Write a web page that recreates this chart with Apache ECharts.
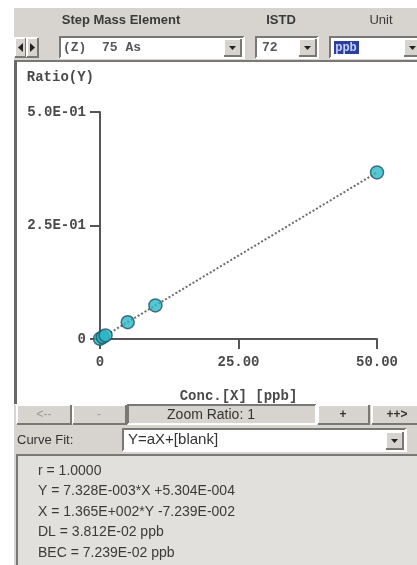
<!DOCTYPE html>
<html>
<head>
<meta charset="utf-8">
<script src="https://cdn.jsdelivr.net/npm/echarts@6/dist/echarts.min.js"></script>
<style>
html,body{margin:0;padding:0;background:#fff;}
#c{width:417px;height:565px;}
</style>
</head>
<body>
<div id="c"></div>
<script>
// ---- data ----
const concX = [0, 0.5, 1, 5, 10, 50];                       // ppb
const ratioY = [0.0005, 0.0042, 0.0079, 0.037, 0.074, 0.367];
const fitX = [0, 50];
const fitY = [0.00053, 0.3669];
const xTicks = [0, 25, 50];
const yTicks = [0, 0.25, 0.5];
const xTickLabels = ['0', '25.00', '50.00'];
const yTickLabels = ['0', '2.5E-01', '5.0E-01'];
const infoLines = [
  'r = 1.0000',
  'Y = 7.328E-003*X +5.304E-004',
  'X = 1.365E+002*Y -7.239E-002',
  'DL = 3.812E-02 ppb',
  'BEC = 7.239E-02 ppb'
];

const PANEL = '#d7d4cf';
const MONO = '"Liberation Mono", "DejaVu Sans Mono", monospace';
const SANS = '"Liberation Sans", Arial, sans-serif';

function bevel(x, y, w, h, fill, raised) {
  const lt = raised ? '#ffffff' : '#7a7875';
  const rb = raised ? '#7a7875' : '#ffffff';
  return [
    {type:'rect', shape:{x:x, y:y, width:w, height:h}, style:{fill:fill}},
    {type:'polyline', shape:{points:[[x, y+h],[x, y],[x+w, y]]}, style:{stroke:lt, lineWidth:2, fill:null}},
    {type:'polyline', shape:{points:[[x, y+h],[x+w, y+h],[x+w, y]]}, style:{stroke:rb, lineWidth:2, fill:null}}
  ];
}
function txt(x, y, s, opt) {
  return {type:'text', x:x, y:y, style:Object.assign({text:s, fill:'#333', font:'11px ' + SANS, textVerticalAlign:'middle'}, opt||{})};
}
function dropBtn(x, y) {
  return bevel(x, y, 17, 17, PANEL, true).concat([
    {type:'polygon', shape:{points:[[x+5, y+7],[x+12, y+7],[x+8.5, y+11]]}, style:{fill:'#222'}}
  ]);
}

let g = [];
g.push({type:'rect', shape:{x:14, y:8, width:403, height:557}, style:{fill:PANEL}});
// header
g.push(txt(121, 20, 'Step Mass Element', {textAlign:'center', font:'bold 13px ' + SANS, fill:'#3a3a3a'}));
g.push(txt(281, 20, 'ISTD', {textAlign:'center', font:'bold 13px ' + SANS, fill:'#3a3a3a'}));
g.push(txt(381, 20, 'Unit', {textAlign:'center', font:'13px ' + SANS, fill:'#3a3a3a'}));
// arrows
g = g.concat(bevel(15, 38, 11, 19, PANEL, true));
g.push({type:'polygon', shape:{points:[[23, 43],[23, 52],[18, 47.5]]}, style:{fill:'#222'}});
g = g.concat(bevel(27, 38, 11, 19, PANEL, true));
g.push({type:'polygon', shape:{points:[[30, 43],[30, 52],[35, 47.5]]}, style:{fill:'#222'}});
// element combo
g = g.concat(bevel(60, 37, 184, 21, '#ffffff', false));
g.push(txt(63, 48, '(Z)  75 As', {font:'bold 13px ' + MONO, fill:'#555'}));
g = g.concat(dropBtn(224, 39));
// ISTD combo
g = g.concat(bevel(256, 37, 62, 21, '#ffffff', false));
g.push(txt(262, 48, '72', {font:'bold 13px ' + MONO, fill:'#555'}));
g = g.concat(dropBtn(299, 39));
// unit combo
g = g.concat(bevel(330, 37, 96, 21, '#ffffff', false));
g.push({type:'rect', shape:{x:334, y:41, width:25, height:13}, style:{fill:'#2b3f9c'}});
g.push(txt(346, 48, 'ppb', {textAlign:'center', font:'bold 12px ' + MONO, fill:'#c8d0ff'}));
g = g.concat(dropBtn(404, 39));
// plot frame
g = g.concat(bevel(15, 61, 404, 343, '#ffffff', false));
g.push({type:'line', shape:{x1:15.5, y1:61, x2:15.5, y2:404}, style:{stroke:'#6a6865', lineWidth:3}});
// bottom buttons
g = g.concat(bevel(17, 405, 54, 19, PANEL, true));
g.push(txt(44, 415, '<--', {textAlign:'center', font:'12px ' + SANS, fill:'#9a9895'}));
g = g.concat(bevel(73, 405, 53, 19, PANEL, true));
g.push(txt(99, 415, '-', {textAlign:'center', font:'12px ' + SANS, fill:'#9a9895'}));
g = g.concat(bevel(128, 405, 188, 19, PANEL, false));
g.push(txt(211, 415, 'Zoom Ratio: 1', {textAlign:'center', font:'14px ' + SANS, fill:'#333'}));
g = g.concat(bevel(318, 405, 51, 19, PANEL, true));
g.push(txt(343, 415, '+', {textAlign:'center', font:'bold 12px ' + SANS}));
g = g.concat(bevel(372, 405, 50, 19, PANEL, true));
g.push(txt(397, 415, '++>', {textAlign:'center', font:'bold 12px ' + SANS}));
// curve fit
g.push(txt(17, 440, 'Curve Fit:', {font:'13px ' + SANS}));
g = g.concat(bevel(123, 429, 283, 22, '#ffffff', false));
g.push(txt(128, 440, 'Y=aX+[blank]', {font:'15px ' + SANS}));
g = g.concat(dropBtn(386, 432));
// info box
g = g.concat(bevel(17, 455, 402, 112, '#e2e0dc', false));
infoLines.forEach(function (s, i) {
  g.push(txt(38, 471 + i * 20.5, s, {font:'14px ' + SANS, fill:'#3a3a3a'}));
});

const axisText = {color:'#4a4a4a', fontFamily:MONO, fontSize:14, fontWeight:'bold'};

const option = {
  backgroundColor:'#ffffff',
  animation:false,
  graphic:{elements:g},
  grid:{left:100, right:40, top:112, bottom:226, containLabel:false, z:5},
  xAxis:{
    type:'value', min:0, max:50, interval:25,
    name:'Conc.[X] [ppb]', nameLocation:'middle', nameGap:50,
    nameTextStyle:axisText,
    axisLine:{show:true, lineStyle:{color:'#555', width:2}},
    axisTick:{show:true, inside:false, length:10, lineStyle:{color:'#555', width:2}},
    axisLabel:Object.assign({margin:16, formatter:function (v) { return xTickLabels[xTicks.indexOf(v)]; }}, axisText),
    splitLine:{show:false}, z:6
  },
  yAxis:{
    type:'value', min:0, max:0.5, interval:0.25,
    name:'Ratio(Y)', nameLocation:'end', nameGap:28,
    nameTextStyle:Object.assign({align:'right', padding:[0,6,0,0]}, axisText),
    axisLine:{show:true, lineStyle:{color:'#555', width:2}},
    axisTick:{show:true, inside:false, length:10, lineStyle:{color:'#555', width:2}},
    axisLabel:Object.assign({margin:14, formatter:function (v) { return yTickLabels[yTicks.indexOf(v)]; }}, axisText),
    splitLine:{show:false}, z:6
  },
  series:[
    {
      type:'line', name:'fit', z:7,
      data:fitX.map(function (x, i) { return [x, fitY[i]]; }),
      showSymbol:false, symbol:'none',
      lineStyle:{color:'#6c6c6c', width:2, type:'dotted'}
    },
    {
      type:'scatter', name:'std', z:8,
      data:concX.map(function (x, i) { return [x, ratioY[i]]; }),
      symbol:'circle', symbolSize:13,
      itemStyle:{color:'#2cb8c8', borderColor:'#1d5566', borderWidth:1.5}
    }
  ]
};
const chart = echarts.init(document.getElementById('c'));
chart.setOption(option);
</script>
</body>
</html>
